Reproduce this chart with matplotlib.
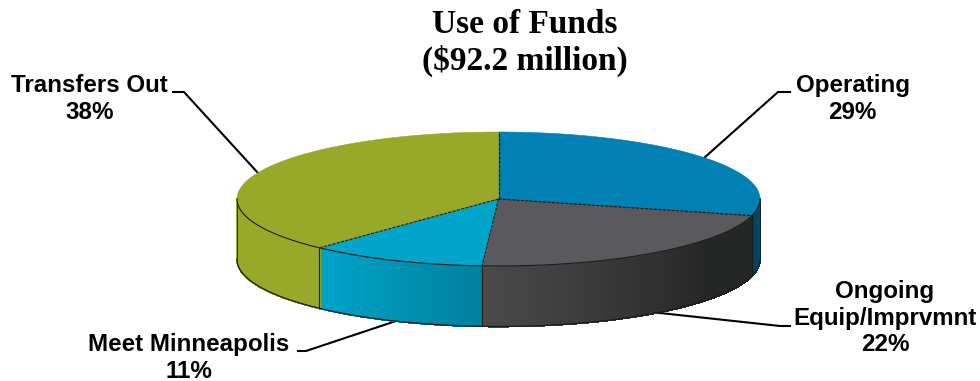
import numpy as np
import matplotlib
matplotlib.use("Agg")
import matplotlib.pyplot as plt
from matplotlib.collections import PolyCollection
from matplotlib.colors import to_rgb

# Budget shares, clockwise from twelve o'clock
categories = ["Operating", "Ongoing\nEquip/Imprvmnt", "Meet Minneapolis", "Transfers Out"]
shares = [29, 22, 11, 38]
title_lines = "Use of Funds\n($92.2 million)"

top_colors = ["#0080B3", "#5A595D", "#00A5C9", "#98A829"]
# Wall shading, listed left to right on screen
side_left = ["#00405C", "#4A4A4A", "#00A5C9", "#98A829"]
side_right = ["#00557A", "#252626", "#00809F", "#98A829"]

W, H = 980, 381
CX, CY, RX, RY, DEPTH = 498.5, 199.0, 261.5, 67.0, 60.5
INK = "#1c1c1c"


def rim(deg):
    t = np.radians(deg)
    return CX + RX * np.cos(t), CY + RY * np.sin(t)  # y axis points down


fig = plt.figure(figsize=(W / 100, H / 100), dpi=100)
ax = fig.add_axes([0, 0, 1, 1])
ax.set_xlim(0, W)
ax.set_ylim(H, 0)
ax.axis("off")

# Clockwise on screen means increasing angle with the inverted y axis
edges = -90 + 3.6 * np.concatenate([[0], np.cumsum(shares)])

# Front wall: only the part of each slice between 0 and 180 degrees shows
for i in range(len(shares)):
    a0, a1 = edges[i], edges[i + 1]
    lo, hi = max(a0, 0), min(a1, 180)
    if hi <= lo:
        continue
    steps = np.linspace(lo, hi, int((hi - lo) * 2) + 2)
    c_left, c_right = np.array(to_rgb(side_left[i])), np.array(to_rgb(side_right[i]))
    polys, cols = [], []
    for s0, s1 in zip(steps[:-1], steps[1:]):
        x0, y0 = rim(s0)
        x1, y1 = rim(s1)
        polys.append([(x0, y0), (x1, y1), (x1, y1 + DEPTH), (x0, y0 + DEPTH)])
        f = (hi - (s0 + s1) / 2) / (hi - lo)  # 0 at the left end, 1 at the right
        if i == 1:
            f = min(f / 0.7, 1)  # the dark wall levels off towards the right
        cols.append(c_left + (c_right - c_left) * f)
    ax.add_collection(PolyCollection(polys, facecolors=cols, edgecolors=cols, linewidths=0.8,
                                     antialiased=False, zorder=2))
    # Wall seam at the start of each visible slice
    if a0 > 0:
        x0, y0 = rim(a0)
        ax.plot([x0, x0], [y0, y0 + DEPTH], color=INK, lw=0.8, zorder=3)

# Lower outline of the wall and its silhouette ends
arc = np.linspace(0, 180, 300)
bx, by = rim(arc)
ax.plot(bx, by + DEPTH, color=INK, lw=0.9, zorder=3)
for end in (0, 180):
    x0, y0 = rim(end)
    ax.plot([x0, x0], [y0, y0 + DEPTH], color=INK, lw=0.6, zorder=3)

# Top face
for i, color in enumerate(top_colors):
    arc = np.linspace(edges[i], edges[i + 1], 200)
    x, y = rim(arc)
    xs = np.concatenate([[CX], x])
    ys = np.concatenate([[CY], y])
    ax.fill(xs, ys, facecolor=color, edgecolor=color, lw=0.4, zorder=4)

# Slice borders on the top face
for i in range(len(shares)):
    x, y = rim(edges[i])
    ax.plot([CX, x], [CY, y], color=INK, lw=0.8, ls=(0, (3, 1)), zorder=5)
arc = np.linspace(0, 180, 300)
x, y = rim(arc)
ax.plot(x, y, color=INK, lw=0.8, zorder=5)

# Leader lines from the labels to the slices
leaders = [
    ([790, 778], [92, 92], (704, 158)),
    ([790, 780], [326, 326], (660, 313)),
    ([298, 306], [351, 351], (396, 321)),
    ([173, 184], [92, 92], (258, 173)),
]
for xs, ys, tip in leaders:
    ax.plot(xs + [tip[0]], ys + [tip[1]], color="black", lw=1.5, zorder=1,
            solid_joinstyle="round")

# Labels
anchors = [(852.5, 99), (885, 318), (189, 358), (89.5, 99)]
for name, share, (x, y) in zip(categories, shares, anchors):
    ax.text(x, y, f"{name}\n{share}%", ha="center", va="center", family="Liberation Sans",
            fontweight="bold", fontsize=17.4, linespacing=1.17, color="black", zorder=6)

ax.text(525, 43, title_lines, ha="center", va="center", family="Liberation Serif",
        fontweight="bold", fontsize=24, linespacing=1.23, color="black", zorder=6)

fig.savefig("out.png", dpi=100)
